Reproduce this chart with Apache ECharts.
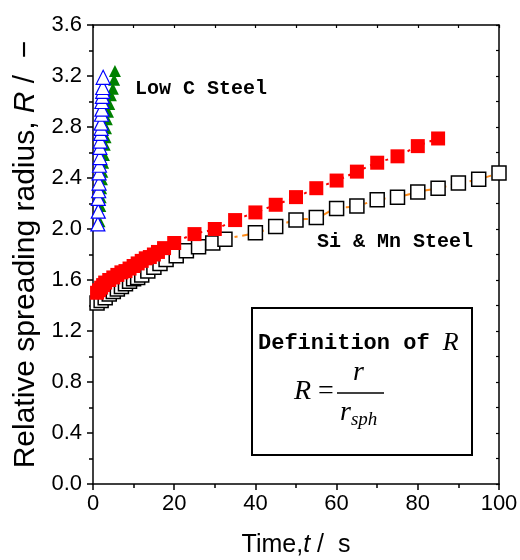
<!DOCTYPE html>
<html><head><meta charset="utf-8">
<script src="https://cdn.jsdelivr.net/npm/echarts@6/dist/echarts.min.js"></script>
<style>html,body{margin:0;padding:0;background:#fff}#c{width:520px;height:560px}</style>
</head><body><div id="c"></div>
<script>
// Low C Steel - open blue triangles
const lowCBlueT = [1.2,1.3,1.3,1.4,1.5,1.5,1.6,1.7,1.7,1.8,1.9,2.0,2.0,2.1,2.2,2.2,2.3,2.4,2.4,2.5];
const lowCBlueR = [2.04,2.14,2.24,2.30,2.36,2.44,2.50,2.56,2.64,2.69,2.75,2.79,2.83,2.90,2.94,3.00,3.04,3.08,3.11,3.19];
// Low C Steel - filled green triangles
const lowCGreenT = [1.6,1.8,1.9,2.0,2.2,2.3,2.5,2.7,2.9,3.1,3.2,3.4,3.7,4.0,4.4,4.9,5.2,5.4];
const lowCGreenR = [2.06,2.18,2.25,2.32,2.39,2.45,2.52,2.58,2.66,2.72,2.79,2.86,2.92,2.98,3.05,3.10,3.17,3.24];
// Si & Mn Steel - filled red squares
const siMnRedT = [1,1.5,2,2.5,3,4,5,6,7,8,9,10,11,12,13,14,15,16,17.5,20,25,30,35,40,45,50,55,60,65,70,75,80,85];
const siMnRedR = [1.50,1.52,1.54,1.56,1.58,1.60,1.62,1.64,1.66,1.67,1.69,1.71,1.73,1.75,1.77,1.78,1.80,1.82,1.85,1.89,1.96,2.00,2.07,2.13,2.19,2.25,2.32,2.38,2.45,2.52,2.57,2.65,2.71];
// Si & Mn Steel - open squares
const siMnOpenT = [1,2,3,4,5,6,7,8,9,10,11,12,13.5,15,16.5,18,20.5,23,26,29.5,32.5,40,45,50,55,60,65,70,75,80,85,90,95,100];
const siMnOpenR = [1.42,1.44,1.46,1.49,1.51,1.53,1.55,1.57,1.59,1.61,1.62,1.64,1.67,1.70,1.73,1.76,1.79,1.83,1.86,1.89,1.92,1.97,2.02,2.07,2.09,2.16,2.18,2.23,2.25,2.29,2.32,2.36,2.39,2.44];
// Axis ticks
const xTicks = [0,20,40,60,80,100];
const yTicks = [0.0,0.4,0.8,1.2,1.6,2.0,2.4,2.8,3.2,3.6];

const pairs = (a,b) => a.map((v,i)=>[v,b[i]]);
const chart = echarts.init(document.getElementById('c'), null, {renderer:'canvas'});
const axisCol = '#000';
const lab = {color:'#000', fontSize:22, fontFamily:'Liberation Sans'};
chart.setOption({
  animation:false,
  backgroundColor:'#fff',
  grid:{left:93, right:21, top:25, bottom:76, containLabel:false, outerBoundsMode:'none'},
  xAxis:[{
    type:'value', min:xTicks[0], max:xTicks[xTicks.length-1], interval:20, position:'bottom',
    axisLine:{onZero:false, lineStyle:{color:axisCol, width:1.5}},
    axisTick:{show:true, length:6, lineStyle:{color:axisCol, width:1.5}},
    minorTick:{show:true, splitNumber:2, length:4, lineStyle:{color:axisCol, width:1.5}},
    splitLine:{show:false},
    axisLabel:Object.assign({margin:9}, lab),
    name:'{a|Time,}{i|t}{a| /  s}', nameLocation:'middle', nameGap:49,
    nameTextStyle:{rich:{a:{fontSize:25, fontFamily:'Liberation Sans', color:'#000'}, i:{fontSize:25, fontFamily:'Liberation Sans', fontStyle:'italic', color:'#000'}}}
  },{
    type:'value', min:0, max:100, interval:10, position:'top',
    axisLine:{onZero:false, lineStyle:{color:axisCol, width:1.5}},
    axisTick:{show:true, inside:true, length:3, lineStyle:{color:axisCol, width:1.2}},
    axisLabel:{show:false}, splitLine:{show:false}
  }],
  yAxis:[{
    type:'value', min:yTicks[0], max:yTicks[yTicks.length-1], interval:0.4, position:'left',
    axisLine:{onZero:false, lineStyle:{color:axisCol, width:1.5}},
    axisTick:{show:true, length:6, lineStyle:{color:axisCol, width:1.5}},
    minorTick:{show:true, splitNumber:2, length:4, lineStyle:{color:axisCol, width:1.5}},
    splitLine:{show:false},
    axisLabel:Object.assign({margin:11, formatter:v=>v.toFixed(1)}, lab),
    name:'{a|Relative spreading radius, }{i|R}{a| /  −}', nameLocation:'middle', nameGap:50, nameRotate:90,
    nameTextStyle:{rich:{a:{fontSize:30, fontFamily:'Liberation Sans', color:'#000'}, i:{fontSize:30, fontFamily:'Liberation Sans', fontStyle:'italic', color:'#000'}}}
  },{
    type:'value', min:0, max:3.6, interval:0.2, position:'right',
    axisLine:{onZero:false, lineStyle:{color:axisCol, width:1.5}},
    axisTick:{show:true, inside:true, length:3, lineStyle:{color:axisCol, width:1.2}},
    axisLabel:{show:false}, splitLine:{show:false}
  }],
  series:[
    {type:'line', data:pairs(siMnOpenT, siMnOpenR), smooth:true, symbol:'none', clip:true, z:2,
     lineStyle:{color:'#ff8c1a', width:2, type:[14,5,3,5]}},
    {type:'line', data:pairs(siMnRedT, siMnRedR), smooth:true, symbol:'none', clip:true, z:2,
     lineStyle:{color:'#ff0000', width:2, type:[3,5]}},
    {type:'scatter', data:pairs(siMnOpenT, siMnOpenR), symbol:'rect', symbolSize:14, clip:true, z:3,
     itemStyle:{color:'#fff', borderColor:'#000', borderWidth:1.5, opacity:1}},
    {type:'scatter', data:pairs(siMnRedT, siMnRedR), symbol:'rect', symbolSize:14, clip:true, z:4,
     itemStyle:{color:'#ff0000', opacity:1}},
    {type:'scatter', data:pairs(lowCGreenT, lowCGreenR), symbol:'triangle', symbolSize:[12,12], clip:true, z:3,
     itemStyle:{color:'#008000', opacity:1}},
    {type:'scatter', data:pairs(lowCBlueT, lowCBlueR), symbol:'triangle', symbolSize:[14,14], clip:true, z:4,
     itemStyle:{color:'#fff', borderColor:'#0000ff', borderWidth:1.2, opacity:1}}
  ],
  graphic:[
    {type:'text', left:135, top:79, z:10, style:{text:'Low C Steel', fill:'#000', font:'bold 20px "Liberation Mono"'}},
    {type:'text', left:317, top:232, z:10, style:{text:'Si & Mn Steel', fill:'#000', font:'bold 20px "Liberation Mono"'}},
    {type:'rect', z:10, shape:{x:252, y:308, width:220, height:147}, style:{fill:'#fff', stroke:'#000', lineWidth:2}},
    {type:'text', left:258, top:330, z:11, style:{
      text:'{m|Definition of }{i|R}', rich:{
        m:{font:'bold 22px "Liberation Mono"', fill:'#000'},
        i:{font:'italic 26px "Liberation Serif"', fill:'#000'}}}},
    {type:'text', left:294, top:378, z:11, style:{
      text:'{i|R}{m| =}', rich:{
        i:{font:'italic 28px "Liberation Serif"', fill:'#000'},
        m:{font:'28px "Liberation Serif"', fill:'#000'}}}},
    {type:'line', z:11, shape:{x1:337, y1:393, x2:384, y2:393}, style:{stroke:'#000', lineWidth:1.5}},
    {type:'text', left:353, top:359, z:11, style:{text:'r', font:'italic 28px "Liberation Serif"', fill:'#000'}},
    {type:'text', left:340, top:399, z:11, style:{
      text:'{i|r}{s|sph}', rich:{
        i:{font:'italic 28px "Liberation Serif"', fill:'#000'},
        s:{font:'italic 19px "Liberation Serif"', fill:'#000', padding:[14,0,0,0]}}}}
  ]
});
</script></body></html>
